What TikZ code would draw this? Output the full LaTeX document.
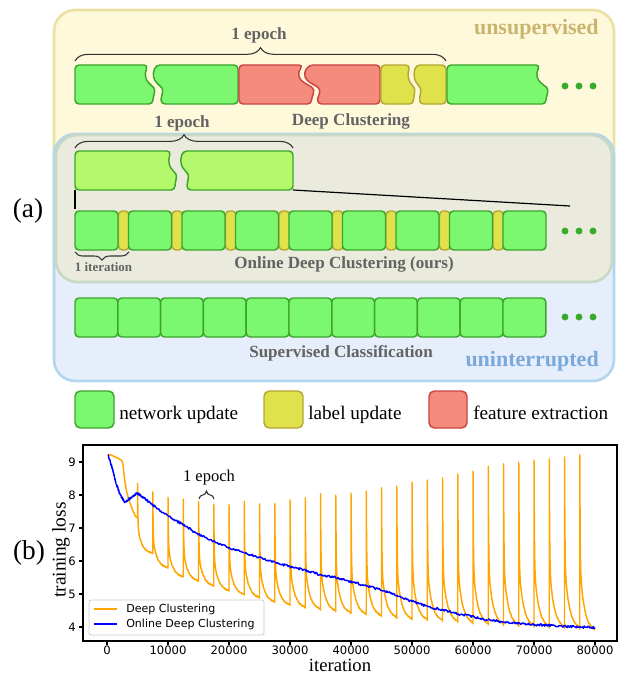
\documentclass[tikz,border=0pt]{standalone}
\usepackage{fontspec}
\setmainfont{Liberation Serif}
\newfontfamily\plotfont{DejaVu Sans}
\usetikzlibrary{decorations.pathreplacing}
\definecolor{gfill}{HTML}{7CF870}
\definecolor{gdraw}{HTML}{3DA52C}
\definecolor{lgfill}{HTML}{B4F86C}
\definecolor{rfill}{HTML}{F48B7C}
\definecolor{rdraw}{HTML}{C94444}
\definecolor{yfill}{HTML}{E0E24C}
\definecolor{ydraw}{HTML}{B5A637}
\definecolor{txtgray}{HTML}{636363}
\definecolor{tanc}{HTML}{C9B56E}
\definecolor{skyb}{HTML}{7BA8DA}
\definecolor{ybox}{HTML}{FFF9DC}
\definecolor{yboxd}{HTML}{EBE1A3}
\definecolor{bbox}{HTML}{E6EEFB}
\definecolor{bboxd}{HTML}{B3D6EF}
\definecolor{obox}{HTML}{EAEBDC}
\definecolor{oboxd}{HTML}{C8D8C4}
\definecolor{dotg}{HTML}{3AAA2A}
\definecolor{dcorange}{HTML}{FFA500}
\definecolor{odcblue}{HTML}{0000FF}
\tikzset{
  gblk/.style={fill=gfill, draw=gdraw, line width=1.1pt, rounded corners=3pt},
  lgblk/.style={fill=lgfill, draw=gdraw, line width=1.1pt, rounded corners=3pt},
  rblk/.style={fill=rfill, draw=rdraw, line width=1.1pt, rounded corners=3pt},
  yblk/.style={fill=yfill, draw=ydraw, line width=1.1pt, rounded corners=3pt},
  wd/.style n args={3}{insert path={ .. controls ({#1-0.8*#3},{#2+10}) and ({#1-0.4*#3},{#2+15}) .. ({#1+0.6*#3},{#2+20}) .. controls ({#1+1.6*#3},{#2+25}) and ({#1+#3},{#2+32}) .. ({#1+#3},{#2+39})}},
  wu/.style n args={3}{insert path={ .. controls ({#1+#3},{#2+32}) and ({#1+1.6*#3},{#2+25}) .. ({#1+0.6*#3},{#2+20}) .. controls ({#1-0.4*#3},{#2+15}) and ({#1-0.8*#3},{#2+10}) .. ({#1},{#2})}},
  gdot/.style={fill=dotg},
  brc/.style={decorate, decoration={brace, amplitude=#1}, draw=black!80, line width=0.8pt},
  glbl/.style={font=\bfseries\fontsize{12.8}{15}\selectfont, text=txtgray, inner sep=0pt},
  leg/.style={font=\fontsize{14.4}{17}\selectfont, inner sep=0pt, anchor=base west},
  tick/.style={font=\plotfont\fontsize{8.7}{10}\selectfont, inner sep=0pt},
  boxr/.style={line width=2pt, rounded corners=16pt},
}
\begin{document}
\begin{tikzpicture}[x=0.75pt,y=-0.75pt]
\useasboundingbox (0,0) rectangle (619,674);
% ---------- region boxes ----------
\draw[boxr, draw=yboxd, fill=ybox] (54,10) rectangle (614,281);
\draw[boxr, draw=bboxd, fill=bbox] (54,134) rectangle (614,381);
\draw[boxr, draw=oboxd, fill=obox] (56,135) rectangle (612,282);
\node[font=\bfseries\fontsize{16.5}{19}\selectfont, text=tanc, anchor=base east, inner sep=0pt] (unsup) at (599,35) {unsupervised};
\node[font=\bfseries\fontsize{16.5}{19}\selectfont, text=skyb, anchor=base east, inner sep=0pt] (unint) at (599,366) {uninterrupted};
\node[font=\fontsize{20.5}{24}\selectfont] (a) at (28,211) {(a)};
% ---------- Deep Clustering row ----------
\path[gblk] (75,85) -- (75,65) -- (148,65) [wd={148}{65}{5}] -- (75,104) -- cycle;
\path[gblk] (238,85) -- (238,104) -- (161,104) [wu={156}{65}{5}] -- (238,65) -- cycle;
\path[rblk] (239,85) -- (239,65) -- (303,65) [wd={303}{65}{8.5}] -- (239,104) -- cycle;
\path[rblk] (380,85) -- (380,104) -- (317.5,104) [wu={309}{65}{8.5}] -- (380,65) -- cycle;
\path[yblk] (381,85) -- (381,65) -- (410,65) [wd={410}{65}{3.5}] -- (381,104) -- cycle;
\path[yblk] (446,85) -- (446,104) -- (419.5,104) [wu={416}{65}{3.5}] -- (446,65) -- cycle;
\path[gblk] (447,85) -- (447,65) -- (540,65) [wd={540}{65}{6}] -- (447,104) -- cycle;
\foreach \x in {565,579,593} \fill[gdot] (\x,86) circle[radius=2.6pt];
\draw[brc=10pt] (75,61) -- (446,61);
\node[glbl, anchor=base] (ep1) at (259,40) {1 epoch};
\node[glbl, anchor=base] (dc) at (351,125) {Deep Clustering};
% ---------- Online Deep Clustering ----------
\path[lgblk] (75,170) -- (75,151) -- (171,151) [wd={171}{151}{4}] -- (75,190) -- cycle;
\path[lgblk] (293,170) -- (293,190) -- (187,190) [wu={183}{151}{4}] -- (293,151) -- cycle;
\draw[brc=10pt] (75,148) -- (293,148);
\node[glbl, anchor=base] (ep2) at (182,127) {1 epoch};
\coordinate (lgbl) at (75,190);
\coordinate (lgbr) at (293,190);
\coordinate (rowtl) at (75,209);
\coordinate (rowtr) at (570,206);
\draw[line width=0.9pt] (lgbl) -- (rowtl);
\draw[line width=0.9pt] (lgbr) -- (rowtr);
\foreach \i in {0,...,7} \draw[yblk] ({118.5+53.5*\i},211) rectangle ++(10.5,39);
\foreach \i in {0,...,8} \draw[gblk] ({75+53.5*\i},211) rectangle ++(43,39);
\foreach \x in {565,579,593} \fill[gdot] (\x,231) circle[radius=2.6pt];
\draw[brc=6pt] (129,252) -- (75,252);
\node[font=\bfseries\fontsize{9.7}{11}\selectfont, text=txtgray, inner sep=0pt, anchor=base] (it) at (103.5,271) {1 iteration};
\node[glbl, anchor=base] (odc) at (344,268) {Online Deep Clustering (ours)};
% ---------- Supervised ----------
\foreach \i in {0,...,10} \draw[gblk] ({75+42.8*\i},298) rectangle ++(42.8,39);
\foreach \x in {565,579,593} \fill[gdot] (\x,317) circle[radius=2.6pt];
\node[glbl, anchor=base] (sc) at (341,357) {Supervised Classification};
% ---------- legend ----------
\draw[gblk, rounded corners=4pt] (75,391) rectangle (114,428);
\node[leg] (l1) at (119,419) {network update};
\draw[yblk, rounded corners=4pt] (264,391) rectangle (303,428);
\node[leg] (l2) at (308,419) {label update};
\draw[rblk, rounded corners=4pt] (429,391) rectangle (467,428);
\node[leg] (l3) at (473,419) {feature extraction};
% ---------- plot (b) ----------
\node[font=\fontsize{20.5}{24}\selectfont] (b) at (29,553) {(b)};
\begin{scope}[shift={(107,759)}, xscale=6.1, yscale=-33]
  \draw[dcorange, line width=1.1pt, line join=round] (0.1,9.22) -- (0.7,9.21)
     -- plot[domain=0.7:2.4, samples=12] (\x,{9.21-0.09*(\x-0.7)+0.015*rand})
     -- (2.6,8.95) -- (2.9,8.45) -- (3.2,8.12)
     -- plot[domain=3.2:4.95, samples=14] (\x,{7.3+0.82*((5-\x)/1.8)^1.5+0.015*rand}) -- (5,7.3);
  \foreach \s/\p/\tp/\tn in {5/8.36/7.30/6.21, 7.5/8.11/6.21/5.77, 10/7.94/5.77/5.50, 12.5/7.87/5.50/5.37, 15/7.82/5.37/5.22, 17.5/7.73/5.22/5.07, 20/7.70/5.07/4.96, 22.5/7.79/4.96/4.86, 25/7.75/4.86/4.73, 27.5/7.73/4.73/4.64, 30/7.85/4.64/4.56, 32.5/7.90/4.56/4.50, 35/8.06/4.50/4.45, 37.5/8.00/4.45/4.39, 40/8.04/4.39/4.35, 42.5/8.14/4.35/4.30, 45/8.23/4.30/4.25, 47.5/8.28/4.25/4.20, 50/8.38/4.20/4.18, 52.5/8.44/4.18/4.15, 55/8.54/4.15/4.12, 57.5/8.63/4.12/4.08, 60/8.72/4.08/4.05, 62.5/8.87/4.05/4.03, 65/8.94/4.03/4.00, 67.5/8.99/4.00/3.98, 70/9.05/3.98/3.95, 72.5/9.09/3.95/3.94, 75/9.17/3.94/3.92, 77.5/9.22/3.92/3.85}
  {
    \draw[dcorange, line width=1.1pt, line join=round] (\s,\tp) -- plot[domain=0:2.5, samples=45] ({\s+\x},{\tn+(\p-\tn)*(0.62*exp(-\x/0.06)+0.38*exp(-\x/0.75))+0.02*rand});
  }
  \foreach \a/\va/\b/\vb in {0.2/9.2/0.8/8.85, 0.8/8.85/1.5/8.35, 1.5/8.35/2.2/7.98, 2.2/7.98/2.9/7.79, 2.9/7.79/3.8/7.9, 3.8/7.9/4.9/8.06, 4.9/8.06/6/7.92, 6/7.92/7.5/7.7, 7.5/7.7/10/7.36, 10/7.36/12.5/7.1, 12.5/7.1/15/6.8, 15/6.8/17.5/6.6, 17.5/6.6/20/6.4, 20/6.4/22.5/6.25, 22.5/6.25/25/6.1, 25/6.1/27.5/5.96, 27.5/5.96/30/5.83, 30/5.83/32.5/5.72, 32.5/5.72/35/5.58, 35/5.58/37.5/5.5, 37.5/5.5/40/5.37, 40/5.37/42.5/5.25, 42.5/5.25/45/5.12, 45/5.12/47.5/4.95, 47.5/4.95/50/4.78, 50/4.78/52.5/4.62, 52.5/4.62/55/4.52, 55/4.52/57.5/4.4, 57.5/4.4/60/4.31, 60/4.31/62.5/4.22, 62.5/4.22/65/4.15, 65/4.15/67.5/4.1, 67.5/4.1/70/4.07, 70/4.07/72.5/4.05, 72.5/4.05/75/4.02, 75/4.02/77.5/4.0, 77.5/4.0/80/3.98}
  {
    \draw[odcblue, line width=1.1pt, line join=round] plot[domain=\a:\b, samples=18] (\x,{\va+(\vb-\va)*(\x-\a)/(\b-\a)+0.035*rand});
  }
\end{scope}
\draw[line width=0.8pt] (83,445) rectangle (617,641);
\foreach \v in {4,...,9} {
  \draw[line width=0.8pt] (83,{759-33*\v}) -- ++(-4,0);
  \node[tick, anchor=east] (yt\v) at (76,{759-33*\v}) {\v};
}
\foreach \t/\lab in {0/0,10/10000,20/20000,30/30000,40/40000,50/50000,60/60000,70/70000,80/80000} {
  \draw[line width=0.8pt] ({107+6.1*\t},641) -- ++(0,4);
  \node[tick] (xt\t) at ({107+6.1*\t},650.5) {\lab};
}
\node[font=\fontsize{14.6}{17}\selectfont, rotate=90] (ylab) at (61,550) {training loss};
\node[font=\fontsize{14}{17}\selectfont, anchor=base, inner sep=0pt] (xlab) at (340,671.5) {iteration};
\draw[brc=6pt] (199,499) -- (214,499);
\node[font=\fontsize{12.4}{15}\selectfont, anchor=base, inner sep=0pt] (ep3) at (209,481) {1 epoch};
% legend
\draw[draw=black!20, fill=white, fill opacity=0.8, rounded corners=1.5pt, line width=0.6pt] (89,600) rectangle (264,635);
\draw[dcorange, line width=1.1pt] (94,609) -- (117,609);
\node[font=\plotfont\fontsize{8.3}{10}\selectfont, anchor=west, inner sep=0pt] (leg1) at (126,609) {Deep Clustering};
\draw[odcblue, line width=1.1pt] (94,624) -- (117,624);
\node[font=\plotfont\fontsize{8.3}{10}\selectfont, anchor=west, inner sep=0pt] (leg2) at (126,624) {Online Deep Clustering};
\end{tikzpicture}
\end{document}
